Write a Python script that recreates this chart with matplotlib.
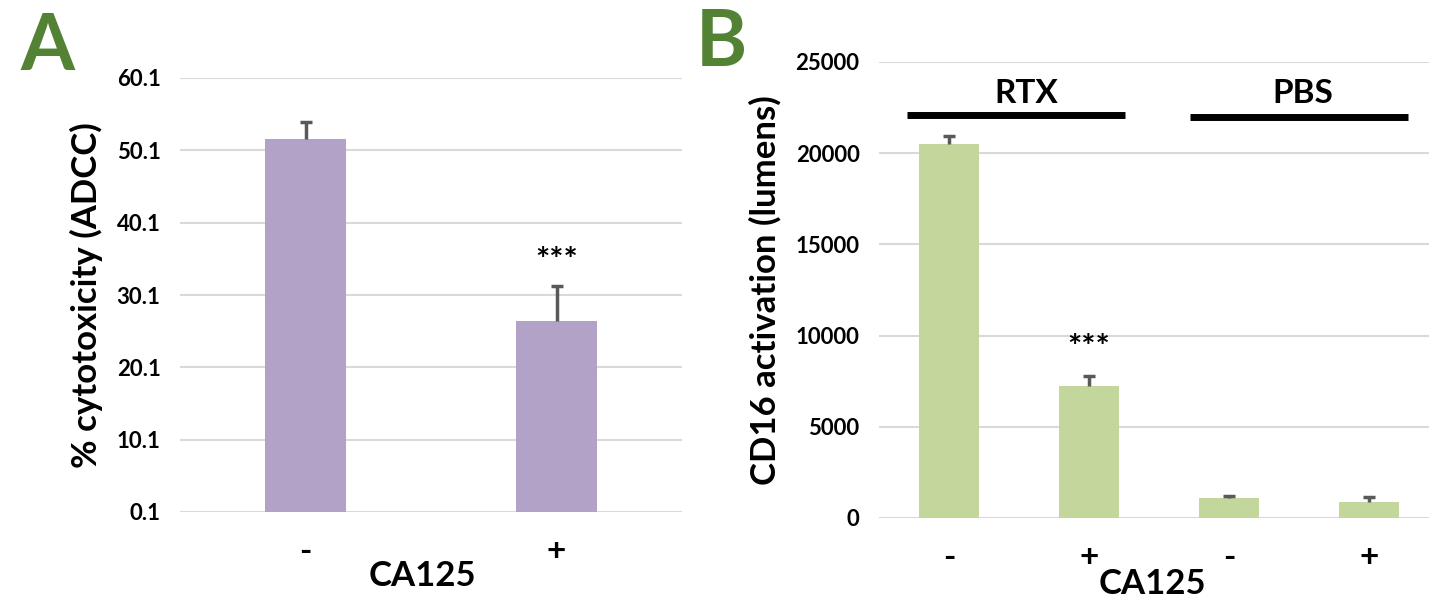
import matplotlib.pyplot as plt
import numpy as np

plt.rcParams['font.family'] = ['Lato', 'DejaVu Sans']
plt.rcParams['font.weight'] = 'bold'

# panel A data
a_labels = ['-', '+']
a_values = [51.7, 26.5]
a_err = [2.25, 4.8]
a_yticks = [0.1, 10.1, 20.1, 30.1, 40.1, 50.1, 60.1]

# panel B data
b_labels = ['-', '+', '-', '+']
b_values = [20480, 7240, 1100, 890]
b_err = [445, 530, 130, 275]
b_yticks = [0, 5000, 10000, 15000, 20000, 25000]

purple = '#B2A2C7'
green = '#C3D69B'
letter_green = '#548235'
grid_col = '#D9D9D9'
err_col = '#595959'

fig = plt.figure(figsize=(14.29, 6.06), dpi=100)


def style(ax):
    for s in ax.spines.values():
        s.set_visible(False)
    ax.tick_params(length=0)
    ax.yaxis.grid(True, color=grid_col, linewidth=1.5)
    ax.set_axisbelow(True)


def upper_err(ax, x, vals, err):
    # only the "plus" side, like Excel
    top = np.array(vals) + np.array(err)
    ax.vlines(x, vals, top, color=err_col, linewidth=2.5, zorder=3)
    ax.plot(x, top, linestyle='none', marker='_', markersize=8,
            markeredgewidth=2.5, color=err_col, zorder=3)


# ---- A ----
ax1 = fig.add_axes([180 / 1429, 1 - 512 / 606, 502 / 1429, 434 / 606])
x1 = np.arange(len(a_values))
ax1.bar(x1, a_values, width=0.32, color=purple)
upper_err(ax1, x1, a_values, a_err)
ax1.set_xlim(-0.5, 1.5)
ax1.set_ylim(0.1, 60.1)
ax1.set_yticks(a_yticks)
ax1.set_yticklabels([f'{v:.1f}' for v in a_yticks], fontsize=16, fontweight='bold')
ax1.set_xticks(x1)
ax1.set_xticklabels(a_labels, fontsize=24, fontweight='bold')
ax1.tick_params(axis='x', pad=18)
ax1.tick_params(axis='y', pad=14)
style(ax1)
ax1.set_ylabel('% cytotoxicity (ADCC)', fontsize=25, fontweight='bold', labelpad=10)
fig.text(422 / 1429, 1 - 576 / 606, 'CA125', ha='center', va='center',
         fontsize=25, fontweight='bold')
ax1.text(x1[1], a_values[1] + a_err[1] + 3.4, '***', ha='center', va='center',
         fontsize=24, fontweight='bold')
fig.text(47 / 1429, 1 - 48 / 606, 'A', ha='center', va='center', fontsize=56,
         fontweight='bold', color=letter_green)

# ---- B ----
ax2 = fig.add_axes([879 / 1429, 1 - 518 / 606, 560 / 1429, 456 / 606])
x2 = np.arange(len(b_values))
ax2.bar(x2, b_values, width=0.43, color=green)
upper_err(ax2, x2, b_values, b_err)
ax2.set_xlim(-0.5, 3.5)
ax2.set_ylim(0, 25000)
ax2.set_yticks(b_yticks)
ax2.set_yticklabels([str(v) for v in b_yticks], fontsize=16, fontweight='bold')
ax2.set_xticks(x2)
ax2.set_xticklabels(b_labels, fontsize=24, fontweight='bold')
ax2.tick_params(axis='x', pad=18)
ax2.tick_params(axis='y', pad=14)
style(ax2)
ax2.set_ylabel('CD16 activation (lumens)', fontsize=25, fontweight='bold', labelpad=10)
fig.text(1152 / 1429, 1 - 584 / 606, 'CA125', ha='center', va='center',
         fontsize=25, fontweight='bold')
ax2.text(x2[1], 9300, '***', ha='center', va='center', fontsize=24, fontweight='bold')

# group bars
ax2.plot([-0.3, 1.26], [22100, 22100], color='black', linewidth=5, solid_capstyle='butt')
ax2.plot([1.72, 3.28], [22000, 22000], color='black', linewidth=5, solid_capstyle='butt')
ax2.text(0.55, 23300, 'RTX', ha='center', va='center', fontsize=24, fontweight='bold')
ax2.text(2.53, 23300, 'PBS', ha='center', va='center', fontsize=24, fontweight='bold')
fig.text(721 / 1429, 1 - 44 / 606, 'B', ha='center', va='center', fontsize=56,
         fontweight='bold', color=letter_green)

fig.savefig('out.png', dpi=100)
